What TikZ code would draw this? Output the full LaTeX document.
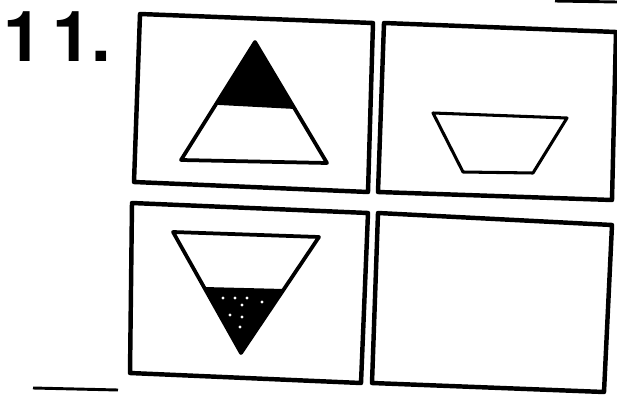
\documentclass[tikz,border=0pt]{standalone}
\usepackage{fontspec}
\setsansfont{TeX Gyre Heros}
\usepackage{tikz}

\begin{document}
\begin{tikzpicture}[x=0.03cm, y=-0.03cm, line join=round,
    frame/.style={line width=3.8pt},
    figline/.style={line width=3.2pt},
    thinline/.style={line width=2.6pt},
    speck/.style={fill=white}]
  \useasboundingbox (0,0) rectangle (617,395);
  % item number
  \node[anchor=north west, inner sep=0pt, font=\sffamily\bfseries\fontsize{60}{60}\selectfont] (num) at (3,11) {1\kern9pt1.};
  % four frames, slightly skewed as scanned
  \draw[frame] (140,14) -- (373,23) -- (368,192) -- (134,182) -- cycle;
  \draw[frame] (384,23) -- (616,32) -- (612,200) -- (378,192) -- cycle;
  \draw[frame] (132,203) -- (368,213) -- (361,383) -- (130,373) -- cycle;
  \draw[frame] (378,213) -- (612,225) -- (604,392) -- (372,383) -- cycle;
  % triangle, dark on top
  \fill (255,42) -- (217,103) -- (293,107) -- cycle;
  \draw[figline] (255,42) -- (181,160) -- (327,163) -- cycle;
  \draw[figline] (217,103) -- (293,107);
  % trapezoid
  \draw[thinline] (433,113) -- (567,118) -- (533,173) -- (463,172) -- cycle;
  % inverted triangle, dark at the bottom
  \fill (204,287) -- (284,289) -- (241,353) -- cycle;
  \draw[figline] (173,232) -- (319,237) -- (241,353) -- cycle;
  \foreach \x/\y in {223/298, 235/298, 247/298, 262/302, 242/305, 230/315, 242/317, 240/327}
    \fill[speck] (\x,\y) circle (1.6);
  % scan marks
  \draw[line width=2.5pt] (33,388) -- (118,390);
  \draw[line width=2.5pt] (555,1) -- (617,2);
\end{tikzpicture}
\end{document}
